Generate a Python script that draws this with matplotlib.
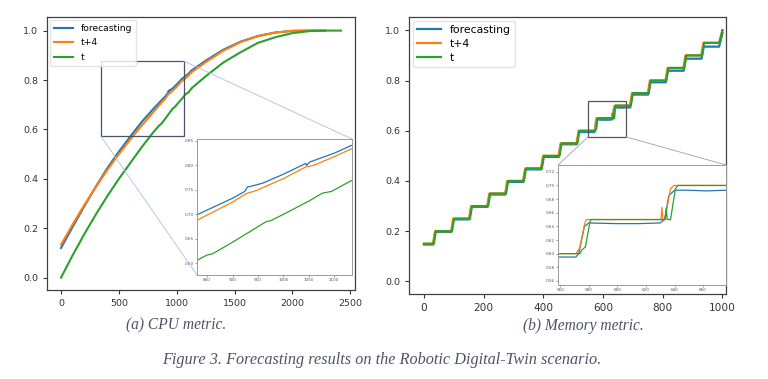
#recreate forecasting results figure (CPU and memory metric) with zoomed insets
import matplotlib
matplotlib.use('Agg')
import matplotlib.pyplot as plt
from matplotlib.patches import Rectangle, ConnectionPatch

#CPU metric curves
cpu_x_fc = [0, 100, 200, 300, 400, 500, 600, 700, 800, 832, 900, 921, 925, 929, 935, 960, 1000,
            1044, 1046, 1048, 1052, 1100, 1132, 1250, 1400, 1550, 1700, 1850, 2000, 2150, 2280]
cpu_fc = [0.12, 0.205, 0.288, 0.368, 0.443, 0.51, 0.572, 0.632, 0.684, 0.70, 0.733, 0.745, 0.748,
          0.756, 0.757, 0.764, 0.782, 0.804, 0.800, 0.803, 0.807, 0.825, 0.84, 0.878, 0.922,
          0.955, 0.978, 0.992, 0.999, 1.0, 1.0]
cpu_x_t4 = [0, 100, 200, 300, 400, 500, 600, 700, 800, 832, 900, 927, 935, 945, 1000, 1044,
            1055, 1062, 1100, 1132, 1250, 1400, 1550, 1700, 1850, 2000, 2150, 2280]
cpu_t4 = [0.133, 0.215, 0.293, 0.366, 0.436, 0.50, 0.56, 0.617, 0.672, 0.689, 0.725, 0.7425,
          0.745, 0.748, 0.773, 0.797, 0.799, 0.801, 0.818, 0.833, 0.872, 0.918, 0.953, 0.977,
          0.992, 0.999, 1.0, 1.0]
cpu_x_t = [0, 100, 200, 300, 400, 500, 600, 700, 800, 832, 850, 860, 900, 966, 975, 1000, 1050,
           1076, 1085, 1095, 1132, 1250, 1400, 1550, 1700, 1850, 2000, 2150, 2300, 2420]
cpu_t = [0.0, 0.09, 0.175, 0.255, 0.33, 0.40, 0.465, 0.53, 0.59, 0.607, 0.617, 0.619, 0.643,
         0.685, 0.687, 0.700, 0.727, 0.743, 0.745, 0.747, 0.768, 0.815, 0.87, 0.912, 0.95,
         0.973, 0.99, 0.998, 1.0, 1.0]

#Memory metric staircases (corner points)
mem_x_fc = [0, 31, 38, 92, 99, 152, 159, 213, 220, 273, 280, 333, 340, 393, 400, 452, 459,
            512, 519, 571, 573, 577, 580, 600, 615, 630, 633, 636, 640, 650, 662, 676, 691, 698,
            751, 758, 810, 817, 870, 877, 930, 937, 989, 1000]
mem_fc = [0.147, 0.147, 0.197, 0.197, 0.247, 0.247, 0.297, 0.297, 0.346, 0.346, 0.396, 0.396,
          0.446, 0.446, 0.496, 0.496, 0.546, 0.546, 0.595, 0.595, 0.60, 0.64, 0.645, 0.644,
          0.644, 0.645, 0.65, 0.685, 0.693, 0.693, 0.692, 0.693, 0.693, 0.744, 0.744, 0.793,
          0.793, 0.839, 0.839, 0.887, 0.887, 0.935, 0.935, 0.99]
mem_x_t4 = [0, 30, 37, 91, 98, 151, 158, 212, 219, 272, 279, 332, 339, 392, 399, 451, 458,
            511, 518, 571, 572.7, 573.8, 577.3, 578.4, 630.5, 631.2, 631.8, 633.3, 637.2, 639.5,
            690, 697, 750, 757, 809, 816, 869, 876, 929, 936, 988, 1000]
mem_t4 = [0.15, 0.15, 0.20, 0.20, 0.25, 0.25, 0.30, 0.30, 0.35, 0.35, 0.40, 0.40, 0.45, 0.45,
          0.50, 0.50, 0.55, 0.55, 0.60, 0.60, 0.605, 0.61, 0.645, 0.65, 0.65, 0.668, 0.65,
          0.65, 0.695, 0.70, 0.70, 0.75, 0.75, 0.80, 0.80, 0.85, 0.85, 0.90, 0.90, 0.95, 0.95, 1.0]
mem_x_t = [0, 33, 40, 94, 101, 154, 161, 215, 222, 275, 282, 335, 342, 395, 402, 454, 461,
           514, 521, 573.8, 575, 577.7, 580.7, 581.4, 633.5, 634.2, 634.9, 637.2, 640.6, 642.3,
           693, 700, 753, 760, 812, 819, 872, 879, 932, 939, 991, 1000]
mem_t = [0.15, 0.15, 0.20, 0.20, 0.25, 0.25, 0.30, 0.30, 0.35, 0.35, 0.40, 0.40, 0.45, 0.45,
         0.50, 0.50, 0.55, 0.55, 0.60, 0.60, 0.605, 0.61, 0.645, 0.65, 0.65, 0.667, 0.65,
         0.65, 0.695, 0.70, 0.70, 0.75, 0.75, 0.80, 0.80, 0.85, 0.85, 0.90, 0.90, 0.95, 0.95, 1.0]

labels = ['forecasting', 't+4', 't']
colors = ['#1f77b4', '#ff7f0e', '#2ca02c']
captions = ['(a) CPU metric.', '(b) Memory metric.']
fig_caption = 'Figure 3. Forecasting results on the Robotic Digital-Twin scenario.'

W, H = 768, 379

def fig_rect(x0, y0, x1, y1):
    #pixel box (top-left origin) -> figure fraction [left,bottom,width,height]
    return [x0/W, 1-y1/H, (x1-x0)/W, (y1-y0)/H]

def style_main(ax, xsize):
    for s in ax.spines.values():
        s.set_color('#404040')
        s.set_linewidth(0.9)
    ax.tick_params(labelsize=6.8, colors='#333333', length=3, width=0.8)
    ax.tick_params(axis='x', labelsize=xsize)

def style_inset(ax):
    for s in ax.spines.values():
        s.set_color('#9a9a9a')
        s.set_linewidth(0.7)
    ax.tick_params(labelsize=3, colors='#555555', length=1.5, width=0.4, pad=1)

def connect(fig, ax_main, xy_main, ax_in, xy_in, color):
    con = ConnectionPatch(xyA=xy_main, coordsA=ax_main.transData,
                          xyB=xy_in, coordsB=ax_in.transAxes,
                          color=color, lw=0.6)
    fig.add_artist(con)

fig = plt.figure(figsize=(W/100, H/100), dpi=100)
fig.patch.set_facecolor('white')

#---- (a) CPU ----
ax1 = fig.add_axes(fig_rect(47, 17, 355, 290))
for xs, ys, lab, c in zip([cpu_x_fc, cpu_x_t4, cpu_x_t], [cpu_fc, cpu_t4, cpu_t], labels, colors):
    ax1.plot(xs, ys, color=c, lw=1.5, label=lab)
ax1.set_xlim(-121, 2540)
ax1.set_ylim(-0.05, 1.055)
ax1.set_xticks([0, 500, 1000, 1500, 2000, 2500])
ax1.set_yticks([0.0, 0.2, 0.4, 0.6, 0.8, 1.0])
style_main(ax1, 6.8)
ax1.legend(loc='upper left', fontsize=6.6, handlelength=2.1, labelspacing=0.6,
           borderaxespad=0.35, framealpha=0.8, edgecolor='#dddddd', fancybox=True)
ax1.add_patch(Rectangle((342, 0.574), 1059-342, 0.877-0.574, fill=False,
                        edgecolor='#4a5468', lw=0.9, zorder=5))

in1 = fig.add_axes(fig_rect(197, 139, 352, 275))
for xs, ys, c in zip([cpu_x_fc, cpu_x_t4, cpu_x_t], [cpu_fc, cpu_t4, cpu_t], colors):
    in1.plot(xs, ys, color=c, lw=0.9)
in1.set_xlim(830, 1135)
in1.set_ylim(0.576, 0.854)
in1.set_xticks([850, 900, 950, 1000, 1050, 1100])
in1.set_yticks([0.60, 0.65, 0.70, 0.75, 0.80, 0.85])
in1.set_yticklabels(['0.60', '0.65', '0.70', '0.75', '0.80', '0.85'])
style_inset(in1)
connect(fig, ax1, (1059, 0.877), in1, (1, 1), '#a9c1e3')
connect(fig, ax1, (342, 0.574), in1, (0, 0), '#a9c1e3')

#---- (b) Memory ----
ax2 = fig.add_axes(fig_rect(409, 17, 726, 294))
for xs, ys, lab, c in zip([mem_x_fc, mem_x_t4, mem_x_t], [mem_fc, mem_t4, mem_t], labels, colors):
    ax2.plot(xs, ys, color=c, lw=1.6, label=lab)
ax2.set_xlim(-50, 1012)
ax2.set_ylim(-0.05, 1.053)
ax2.set_xticks([0, 200, 400, 600, 800, 1000])
ax2.set_yticks([0.0, 0.2, 0.4, 0.6, 0.8, 1.0])
style_main(ax2, 7.6)
ax2.legend(loc='upper left', fontsize=7.8, handlelength=2.2, labelspacing=0.35,
           borderaxespad=0.35, framealpha=0.8, edgecolor='#dddddd', fancybox=True)
ax2.add_patch(Rectangle((550, 0.576), 676-550, 0.718-0.576, fill=False,
                        edgecolor='#555555', lw=0.9, zorder=5))

in2 = fig.add_axes(fig_rect(558, 165, 726, 285))
for xs, ys, c in zip([mem_x_fc, mem_x_t4, mem_x_t], [mem_fc, mem_t4, mem_t], colors):
    in2.plot(xs, ys, color=c, lw=0.9)
in2.set_xlim(558.5, 676)
in2.set_ylim(0.554, 0.730)
in2.set_xticks([560, 580, 600, 620, 640, 660])
in2.set_yticks([0.56, 0.58, 0.60, 0.62, 0.64, 0.66, 0.68, 0.70, 0.72])
style_inset(in2)
connect(fig, ax2, (550, 0.576), in2, (0, 1), '#a0a0a0')
connect(fig, ax2, (676, 0.576), in2, (1, 1), '#a0a0a0')

#captions
cap_kw = dict(family='Liberation Serif', style='italic', color='#4d5466', ha='center', va='center')
fig.text(176/W, 1-325/H, captions[0], fontsize=11.2, **cap_kw)
fig.text(583/W, 1-325.5/H, captions[1], fontsize=11.2, **cap_kw)
fig.text(381.5/W, 1-360/H, fig_caption, fontsize=11.7, **cap_kw)

plt.savefig('out.png', dpi=100)
